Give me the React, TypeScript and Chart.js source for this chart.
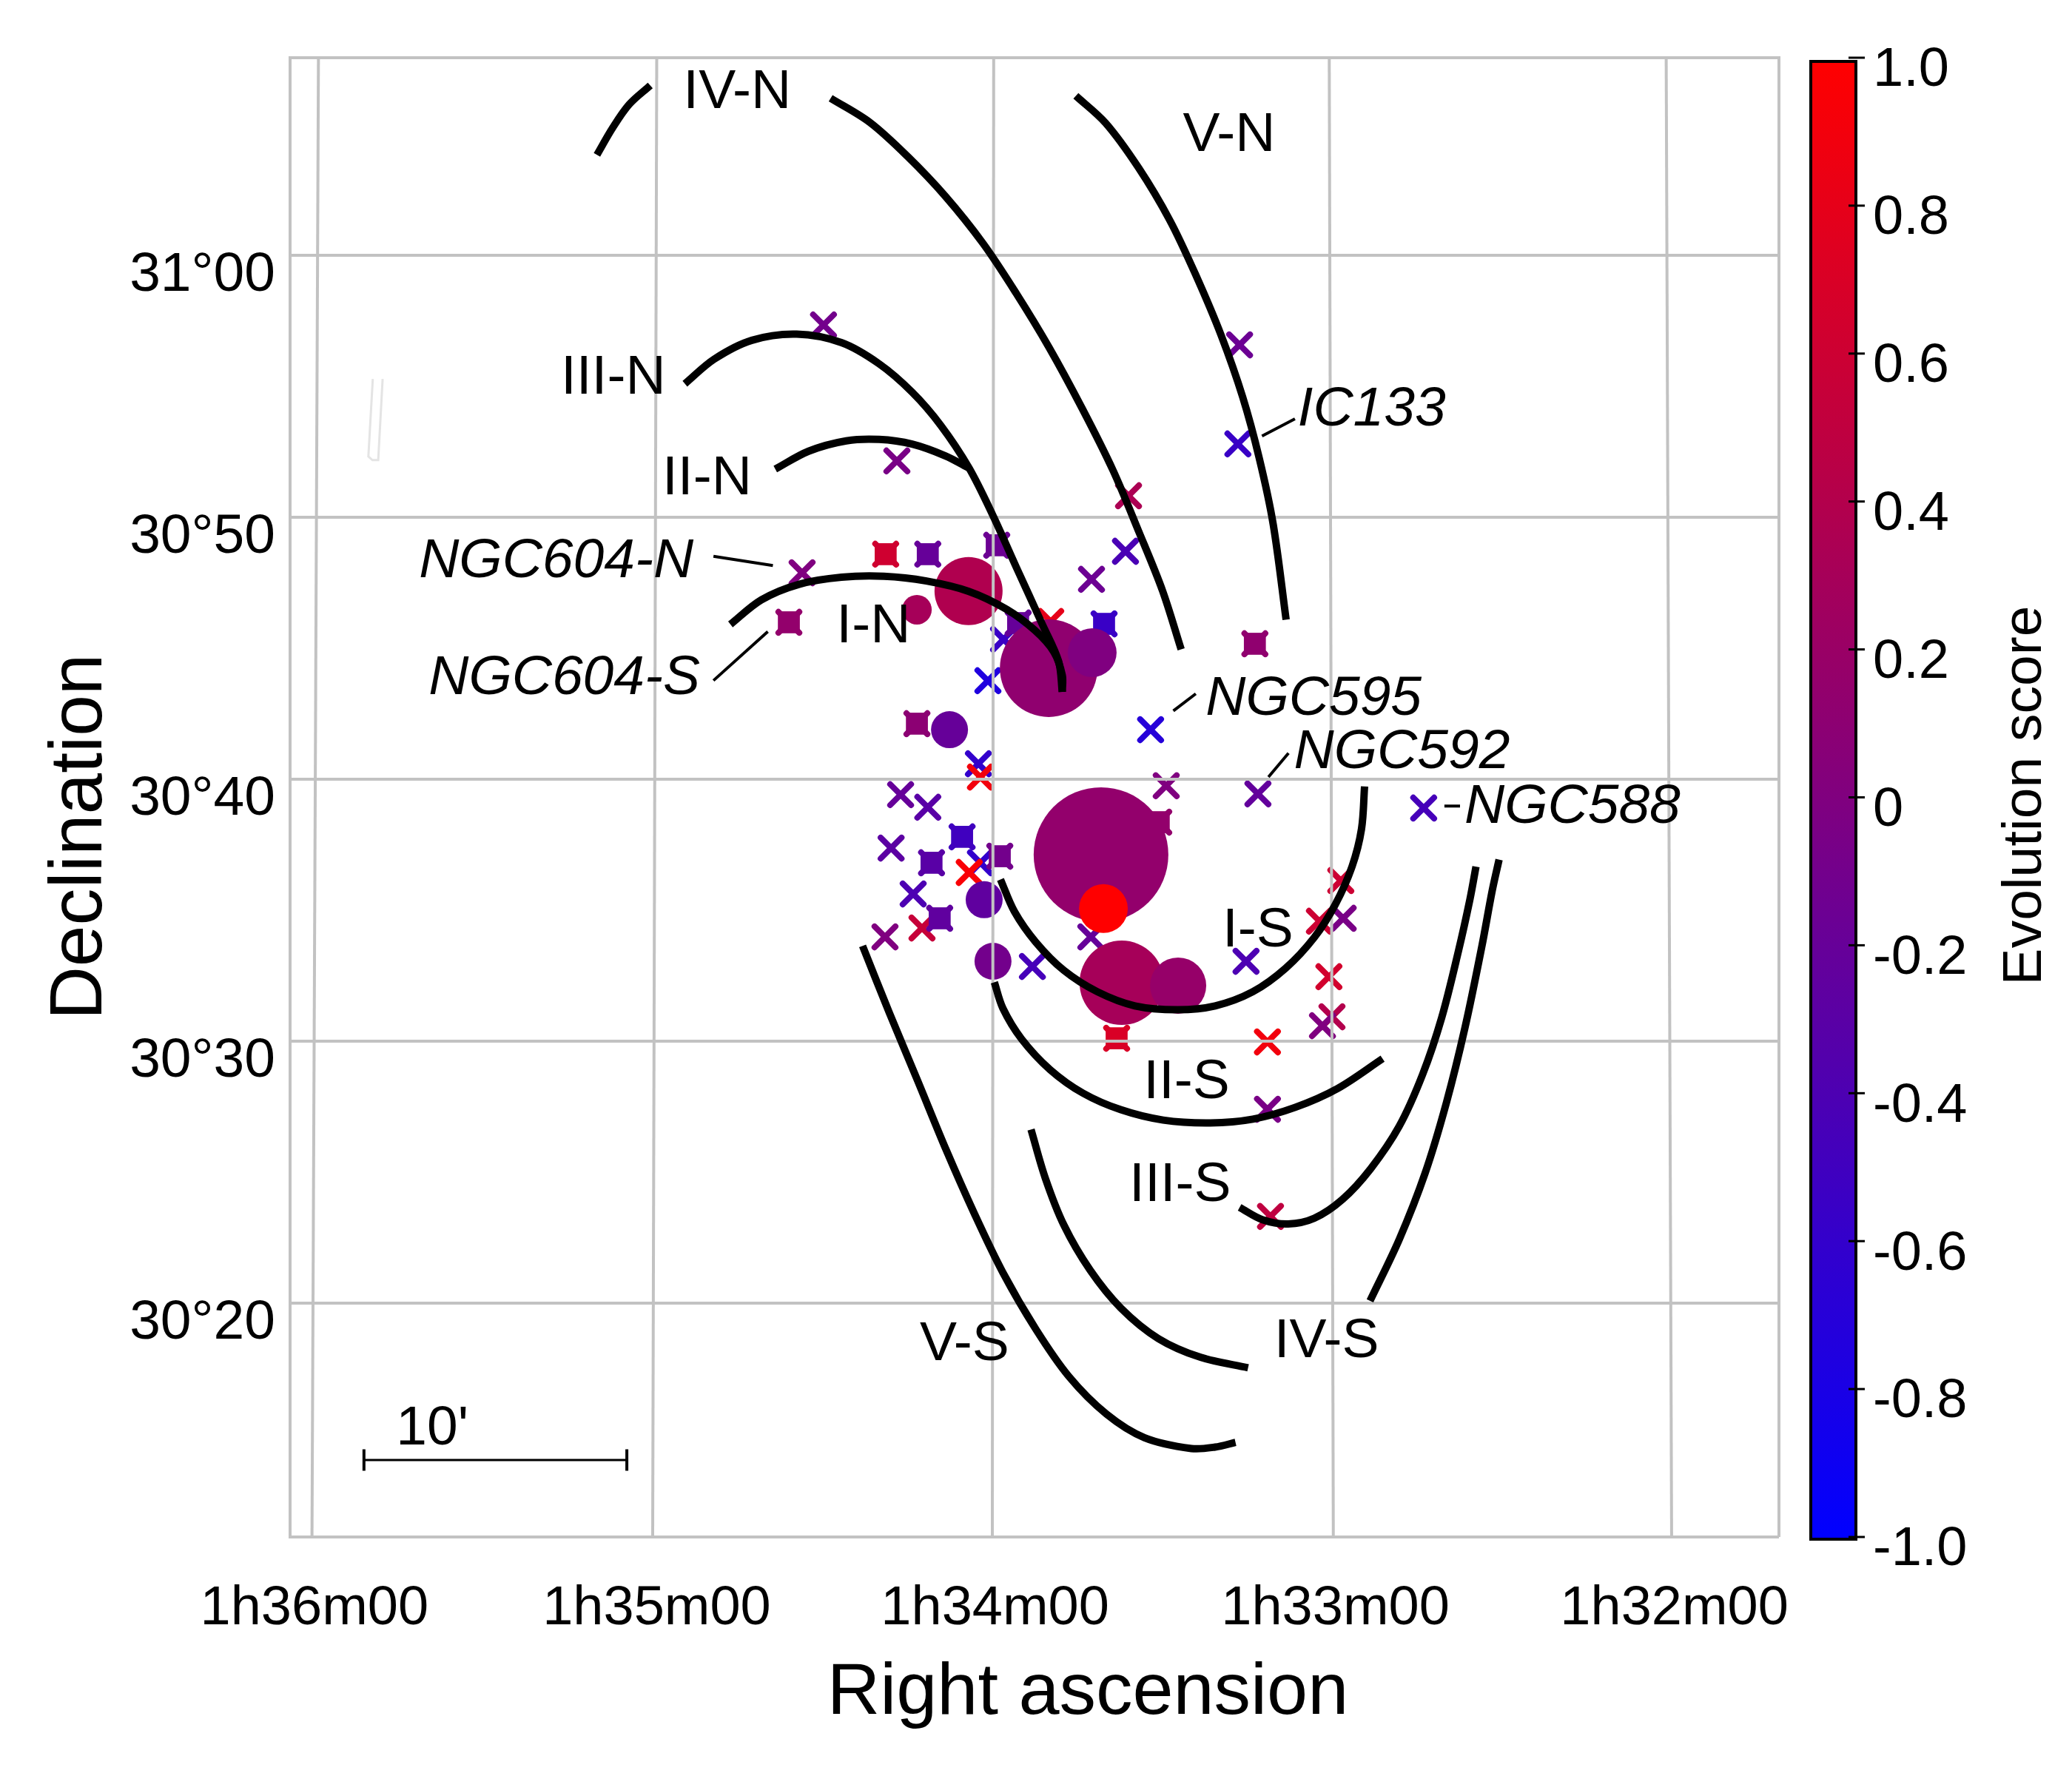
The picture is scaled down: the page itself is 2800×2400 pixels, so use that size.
import React, { useEffect, useRef } from "react";
import { Chart, registerables } from "chart.js";

Chart.register(...registerables);

// Right ascension in minutes of time past 1h, declination in arcminutes past 30 deg
const raTicks = [35.996, 34.988, 33.992, 32.99, 31.992];
const raTickLabels = ["1h36m00", "1h35m00", "1h34m00", "1h33m00", "1h32m00"];
const decTicks = [60, 50, 40, 30, 20];
const decTickLabels = ["31°00", "30°50", "30°40", "30°30", "30°20"];
const scoreTicks = [1, 0.8, 0.6, 0.4, 0.2, 0, -0.2, -0.4, -0.6, -0.8, -1];
const scoreTickLabels = ["1.0", "0.8", "0.6", "0.4", "0.2", "0", "-0.2", "-0.4", "-0.6", "-0.8", "-1.0"];

const crossRA = [34.56, 33.599, 33.608, 33.708, 34.013, 33.534, 34.041, 34.035, 33.488, 33.218, 34.27, 34.19, 34.298, 34.035, 34.068, 34.233, 34.207, 34.316, 33.71, 33.882, 33.253, 33.967, 33.828, 33.804, 32.974, 33.037, 32.967, 33.009, 33.0, 33.028, 33.19, 33.19, 33.181, 32.73, 34.497, 34.281, 33.272, 33.277];
const crossDec = [47.88, 50.82, 48.7, 47.63, 43.76, 41.89, 40.59, 40.08, 39.75, 39.44, 39.41, 38.93, 37.37, 36.81, 36.44, 35.62, 34.32, 33.98, 33.98, 32.85, 33.05, 45.34, 46.02, 45.4, 36.13, 34.58, 34.69, 32.46, 30.93, 30.59, 29.97, 27.4, 23.31, 38.9, 57.34, 52.15, 56.58, 52.8];
const crossScore = [0, 0.35, -0.42, -0.15, -0.75, -0.7, -0.6, 0.9, 0, -0.22, -0.2, -0.3, -0.28, -0.6, 0.95, -0.4, 0.55, 0, -0.2, -0.45, -0.4, -0.55, 0.8, -0.45, 0.6, 0.6, -0.05, 0.65, 0.4, 0, 0.9, -0.05, 0.5, -0.45, -0.1, -0.05, -0.15, -0.55];

const boxRA = [34.314, 34.19, 33.987, 33.671, 33.227, 34.599, 34.222, 34.089, 34.179, 33.978, 34.155, 33.51, 33.634, 33.924];
const boxDec = [48.59, 48.59, 48.93, 45.93, 45.17, 45.99, 42.12, 37.8, 36.81, 37.06, 34.69, 38.36, 30.11, 45.96];
const boxScore = [0.62, -0.2, -0.15, -0.55, 0.13, 0.15, 0.1, -0.5, -0.3, -0.1, -0.25, 0.15, 0.7, -0.2];

const clusterRA = [33.68, 33.834, 33.619, 34.07, 33.453, 33.706, 33.673, 34.126, 34.024, 33.998, 34.222];
const clusterDec = [37.12, 44.24, 32.23, 47.18, 32.12, 44.83, 35.06, 41.89, 35.4, 33.05, 46.47];
const clusterScore = [0.15, 0.13, 0.3, 0.38, 0.18, 0, 1, -0.2, -0.25, -0.1, 0.3];
const clusterSize = [91, 66, 57, 46, 38, 33, 33, 25, 25, 25, 20];

const armIVNa = [[35.164, 63.835], [35.118, 64.861], [35.069, 65.762], [35.007, 66.483]];
const armIVNb = [[34.476, 65.996], [34.361, 65.077], [34.25, 63.78], [34.138, 62.249], [34.027, 60.448], [33.93, 58.556], [33.833, 56.484], [33.735, 54.142], [33.645, 51.8], [33.569, 49.46], [33.499, 47.2], [33.444, 44.955]];
const armVN = [[33.754, 66.086], [33.666, 65.041], [33.569, 63.33], [33.478, 61.349], [33.402, 59.277], [33.326, 56.935], [33.263, 54.593], [33.214, 52.251], [33.173, 49.729], [33.135, 46.09]];
const armIIIN = [[34.905, 55.097], [34.819, 56.034], [34.708, 56.755], [34.576, 56.989], [34.444, 56.665], [34.333, 55.854], [34.236, 54.773], [34.152, 53.512], [34.069, 51.891], [33.999, 50.089], [33.93, 48.108], [33.854, 45.946], [33.805, 44.505], [33.794, 43.333]];
const armIIN = [[34.639, 51.837], [34.541, 52.521], [34.43, 52.917], [34.333, 52.971], [34.236, 52.791], [34.138, 52.341], [34.066, 51.855]];
const armIN = [[34.771, 45.91], [34.68, 46.846], [34.569, 47.441], [34.444, 47.711], [34.319, 47.747], [34.194, 47.567], [34.069, 47.17], [33.958, 46.486], [33.874, 45.675], [33.819, 44.864], [33.794, 43.964], [33.794, 43.333]];
const armIS = [[33.976, 36.175], [33.935, 34.95], [33.872, 33.78], [33.789, 32.699], [33.691, 31.888], [33.58, 31.347], [33.455, 31.203], [33.344, 31.347], [33.233, 31.888], [33.136, 32.789], [33.052, 33.96], [32.99, 35.221], [32.941, 36.662], [32.913, 38.103], [32.904, 39.724]];
const armIIS = [[33.994, 32.248], [33.969, 31.257], [33.914, 30.086], [33.83, 28.915], [33.733, 28.015], [33.622, 27.384], [33.497, 26.988], [33.358, 26.88], [33.233, 27.024], [33.108, 27.474], [32.983, 28.195], [32.851, 29.33]];
const armIIIS = [[33.272, 23.655], [33.205, 23.187], [33.129, 23.024], [33.052, 23.241], [32.969, 23.961], [32.886, 25.132], [32.802, 26.753], [32.733, 28.735], [32.677, 30.897], [32.628, 33.419], [32.594, 35.401], [32.576, 36.662]];
const armIVSa = [[33.886, 26.627], [33.844, 24.772], [33.789, 22.971], [33.712, 21.259], [33.622, 19.818], [33.511, 18.647], [33.386, 17.927], [33.247, 17.53]];
const armIVSb = [[32.888, 20.088], [32.802, 22.43], [32.726, 24.952], [32.663, 27.655], [32.608, 30.537], [32.559, 33.6], [32.528, 35.761], [32.508, 36.932]];
const armVS = [[34.382, 33.636], [34.303, 31.077], [34.219, 28.465], [34.136, 25.853], [34.053, 23.421], [33.969, 21.169], [33.872, 19.007], [33.775, 17.206], [33.664, 15.765], [33.552, 14.864], [33.414, 14.45], [33.344, 14.504], [33.284, 14.684]];
const arms = [armIVNa, armIVNb, armVN, armIIIN, armIIN, armIN, armIS, armIIS, armIIIS, armIVSa, armIVSb, armVS];

const leaders = [
  [[34.821, 48.509], [34.646, 48.156]],
  [[34.821, 43.767], [34.661, 45.634]],
  [[33.206, 53.099], [33.109, 53.755]],
  [[33.467, 42.607], [33.401, 43.263]],
  [[33.187, 40.085], [33.128, 40.993]],
  [[32.669, 38.975], [32.623, 38.975]],
];
const scaleBar = [[35.85, 14.01], [35.076, 14.01]];
const scaleBarCaps = [[[35.85, 14.42], [35.85, 13.6]], [[35.076, 14.42], [35.076, 13.6]]];

const armLabels = ["IV-N", "V-N", "III-N", "II-N", "I-N", "I-S", "II-S", "III-S", "IV-S", "V-S", "10'"];
const armLabelRA = [34.751, 33.303, 35.116, 34.84, 34.35, 33.218, 33.428, 33.447, 33.016, 34.082, 35.649];
const armLabelDec = [66.2, 64.58, 55.3, 51.46, 45.82, 34.21, 28.41, 24.47, 18.52, 18.42, 15.18];
const regionLabels = ["NGC604-N", "NGC604-S", "IC133", "NGC595", "NGC592", "NGC588"];
const regionLabelRA = [35.284, 35.26, 32.883, 33.054, 32.794, 32.292];
const regionLabelDec = [48.29, 43.85, 54.09, 43.04, 41.02, 38.91];

// Sky grid is slightly tilted: RA value of each meridian at the top and bottom of the frame
const meridianTop = [35.984, 34.988, 33.996, 33.008, 32.016];
const meridianBottom = [36.003, 35.0, 34.0, 32.996, 32.0];
const parallels = [60, 50, 40, 30, 20];

// Faint stray outline left of the galaxy
const strayMark = [[35.824, 55.28], [35.837, 52.32], [35.825, 52.18], [35.808, 52.18], [35.795, 55.28]];

const xMin = 31.684;
const xMax = 36.0675;
const yMin = 11.073;
const yMax = 67.542;
const yLabelShift = 0.7627;
const PLOT_TOP = 78;
const FONT = '"Liberation Sans", Arial, sans-serif';
const GRID = "#c2c2c2";

const scoreColor = (s: number) => {
  const t = (s + 1) / 2;
  return `rgb(${Math.round(255 * t)},0,${Math.round(255 * (1 - t))})`;
};
const xy = (a: number[], b: number[]) => a.map((x, i) => ({ x, y: b[i] }));
const pairs = (p: number[][]) => p.map(([x, y]) => ({ x, y }));
const line = (data: number[][], color: string, width: number, order: number, tension = 0) => ({
  type: "scatter",
  data: pairs(data),
  showLine: true,
  borderColor: color,
  borderWidth: width,
  pointRadius: 0,
  tension,
  order,
  clip: false,
  xAxisID: "x",
  yAxisID: "y",
});

const overlay = {
  id: "overlay",
  afterLayout(chart: any) {
    const a = chart.chartArea;
    a.top = PLOT_TOP;
    a.height = a.bottom - PLOT_TOP;
    ["y", "yLabels", "cb", "cbLabels"].forEach((id) => {
      const s = chart.scales[id];
      s.top = PLOT_TOP;
      s.height = s.bottom - PLOT_TOP;
      s.configure();
    });
  },
  beforeDatasetsDraw(chart: any) {
    const ctx = chart.ctx;
    const cb = chart.scales.cb;
    const top = 83;
    const bottom = 2080;
    const g = ctx.createLinearGradient(0, top, 0, bottom);
    g.addColorStop(0, scoreColor(1));
    g.addColorStop(1, scoreColor(-1));
    ctx.save();
    ctx.fillStyle = g;
    ctx.fillRect(2447, top, 61, bottom - top);
    ctx.strokeStyle = "#000";
    ctx.lineWidth = 4;
    ctx.strokeRect(2447, top, 61, bottom - top);
    ctx.lineWidth = 3;
    scoreTicks.forEach((v) => {
      const y = cb.getPixelForValue(v);
      ctx.beginPath();
      ctx.moveTo(2498, y);
      ctx.lineTo(2520, y);
      ctx.stroke();
    });
    ctx.restore();
    ctx.lineCap = "round";
  },
  afterDatasetsDraw(chart: any) {
    const ctx = chart.ctx;
    const { x, y } = chart.scales;
    ctx.lineCap = "butt";
    ctx.save();
    ctx.fillStyle = "#000";
    ctx.textAlign = "center";
    ctx.textBaseline = "middle";
    ctx.font = `75px ${FONT}`;
    armLabels.forEach((t, i) => ctx.fillText(t, x.getPixelForValue(armLabelRA[i]), y.getPixelForValue(armLabelDec[i])));
    ctx.font = `italic 75px ${FONT}`;
    regionLabels.forEach((t, i) => ctx.fillText(t, x.getPixelForValue(regionLabelRA[i]), y.getPixelForValue(regionLabelDec[i])));
    ctx.font = `99px ${FONT}`;
    ctx.fillText("Right ascension", 1470, 2289);
    ctx.save();
    ctx.font = `100px ${FONT}`;
    ctx.translate(109, 1131);
    ctx.rotate(-Math.PI / 2);
    ctx.fillText("Declination", 0, 0);
    ctx.restore();
    ctx.save();
    ctx.font = `75px ${FONT}`;
    ctx.translate(2737, 1075);
    ctx.rotate(-Math.PI / 2);
    ctx.fillText("Evolution score", 0, 0);
    ctx.restore();
    ctx.restore();
  },
};

export default function App() {
  const ref = useRef<HTMLCanvasElement>(null);
  useEffect(() => {
    const datasets: any[] = [];
    datasets.push({
      data: xy(crossRA, crossDec),
      pointStyle: "crossRot",
      pointRadius: 20,
      pointBorderWidth: 8,
      pointBorderColor: crossScore.map(scoreColor),
      order: 60,
    });
    datasets.push({
      data: xy(boxRA, boxDec),
      pointStyle: "crossRot",
      pointRadius: 20,
      pointBorderWidth: 8,
      pointBorderColor: boxScore.map(scoreColor),
      order: 59,
    });
    datasets.push({
      data: xy(boxRA, boxDec),
      pointStyle: "rect",
      pointRadius: 21,
      pointBorderWidth: 0,
      pointBackgroundColor: boxScore.map(scoreColor),
      order: 58,
    });
    datasets.push({
      data: xy(clusterRA, clusterDec),
      pointStyle: "circle",
      pointRadius: clusterSize,
      pointBorderWidth: 0,
      pointBackgroundColor: clusterScore.map(scoreColor),
      order: 50,
    });
    parallels.forEach((d) => datasets.push(line([[xMin, d], [xMax, d]], GRID, 4, 40)));
    meridianTop.forEach((t, i) => datasets.push(line([[t, yMax], [meridianBottom[i], yMin]], GRID, 4, 40)));
    datasets.push(line([[xMin, yMin], [xMax, yMin], [xMax, yMax], [xMin, yMax], [xMin, yMin]], GRID, 4, 39));
    datasets.push(line(strayMark, "#e4e4e4", 3, 38));
    arms.forEach((a) => datasets.push(line(a, "#000", 10, 10, 0.33)));
    leaders.forEach((l) => datasets.push(line(l, "#000", 4, 9)));
    datasets.push(line(scaleBar, "#000", 3, 9));
    scaleBarCaps.forEach((c) => datasets.push(line(c, "#000", 4, 9)));

    const chart = new Chart(ref.current as any, {
      type: "scatter",
      data: { datasets },
      plugins: [overlay],
      options: {
        animation: false,
        responsive: false,
        devicePixelRatio: 1,
        events: [],
        layout: { padding: { top: PLOT_TOP, left: 0, right: 0, bottom: 0 } },
        plugins: { legend: { display: false }, tooltip: { enabled: false } },
        scales: {
          x: {
            type: "linear",
            reverse: true,
            min: xMin,
            max: xMax,
            position: "bottom",
            grid: { display: false },
            border: { display: false },
            afterBuildTicks: (s: any) => { s.ticks = raTicks.map((value) => ({ value })); },
            afterFit: (s: any) => { s.height = 323; s.paddingLeft = 0; s.paddingRight = 0; },
            ticks: {
              padding: 45,
              maxRotation: 0,
              minRotation: 0,
              autoSkip: false,
              color: "#000",
              font: { family: FONT, size: 74 },
              callback: (v: any) => raTickLabels[raTicks.indexOf(v)],
            },
          },
          y: { type: "linear", min: yMin, max: yMax, display: false },
          yLabels: {
            type: "linear",
            axis: "y",
            position: "left",
            min: yMin + yLabelShift,
            max: yMax + yLabelShift,
            grid: { display: false },
            border: { display: false },
            afterBuildTicks: (s: any) => { s.ticks = decTicks.map((value) => ({ value })); },
            afterFit: (s: any) => { s.width = 392; s.paddingTop = 0; s.paddingBottom = 0; },
            ticks: {
              padding: 12,
              autoSkip: false,
              color: "#000",
              font: { family: FONT, size: 75 },
              callback: (v: any) => decTickLabels[decTicks.indexOf(v)],
            },
          },
          cb: { type: "linear", axis: "y", min: -1, max: 1, display: false },
          cbLabels: {
            type: "linear",
            axis: "y",
            position: "right",
            min: -0.982,
            max: 1.018,
            grid: { display: false },
            border: { display: false },
            afterBuildTicks: (s: any) => { s.ticks = scoreTicks.map((value) => ({ value })); },
            afterFit: (s: any) => { s.width = 396; s.paddingTop = 0; s.paddingBottom = 0; },
            ticks: {
              padding: 119,
              autoSkip: false,
              color: "#000",
              font: { family: FONT, size: 74 },
              callback: (v: any) => scoreTickLabels[scoreTicks.indexOf(v)],
            },
          },
        },
      },
    } as any);
    return () => chart.destroy();
  }, []);
  return (
    <canvas
      ref={ref}
      width={2800}
      height={2400}
      style={{ position: "absolute", left: 0, top: 0, display: "block", background: "#fff" }}
    />
  );
}
